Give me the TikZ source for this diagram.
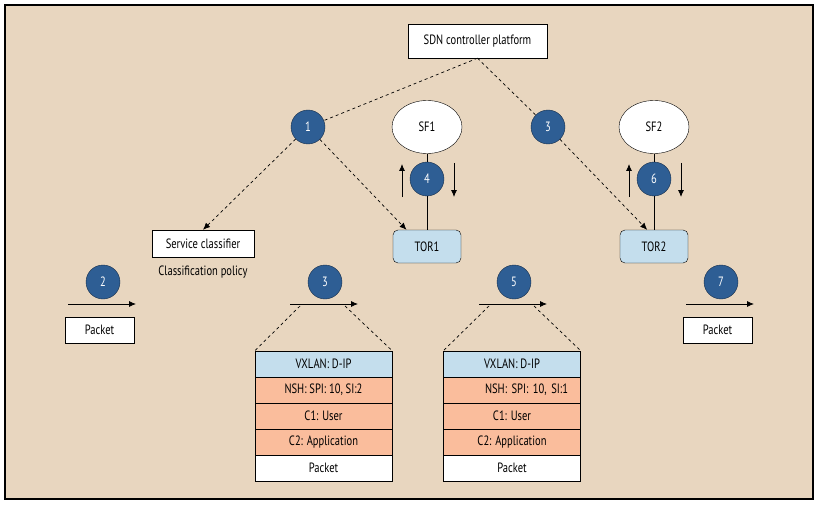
\documentclass[tikz,border=0pt]{standalone}
\usepackage{fontspec}
\setmainfont[FakeStretch=0.78]{PT Sans}
\usetikzlibrary{shapes.geometric,arrows.meta,calc}
\definecolor{sand}{rgb}{0.91,0.84,0.75}
\definecolor{blue1}{rgb}{0.18,0.37,0.58}
\definecolor{blue2}{rgb}{0.77,0.87,0.93}
\definecolor{navy}{rgb}{0.09,0.18,0.29}
\definecolor{salmon}{rgb}{0.98,0.74,0.61}

\begin{document}
\begin{tikzpicture}[x=1pt,y=-1pt,
  font=\fontsize{13.5}{15}\selectfont,
  num/.style={circle,draw=navy,fill=blue1,text=white,minimum size=34pt,inner sep=0pt},
  box/.style={draw,fill=white,minimum height=26pt,inner sep=2pt},
  tor/.style={draw,fill=blue2,rounded corners=5pt,minimum width=68pt,minimum height=33pt},
  sf/.style={ellipse,draw,fill=white,minimum width=70pt,minimum height=53pt},
  layer/.style={draw,minimum width=137pt,minimum height=26pt,inner sep=0pt},
  ctrl/.style={dash pattern=on 3pt off 3pt,line width=0.7pt},
  flow/.style={line width=0.8pt,-{Latex[length=7pt,width=6pt]}}
]
\useasboundingbox (0,0) rectangle (821,505);
\draw[line width=1.1pt,fill=sand] (5,5) rectangle (813,499);

% controller and service functions
\node[box,minimum width=139pt,minimum height=34pt] (sdn) at (477.5,41) {SDN controller platform};
\node[num] (c1) at (308,127) {1};
\node[num] (c3) at (548,127) {3};
\node[sf] (sf1) at (427,127) {SF1};
\node[sf] (sf2) at (654,127) {SF2};
\node[num] (c4) at (427,179) {4};
\node[num] (c6) at (654,179) {6};
\node[tor] (tor1) at (427,246.5) {TOR1};
\node[tor] (tor2) at (654,246.5) {TOR2};
\node[box,minimum width=102pt,minimum height=27pt] (cls) at (203,243.5) {Service classifier};
\node (pol) at (203,272) {Classification policy};

\draw[ctrl] (sdn.south) -- (c1);
\draw[ctrl] (sdn.south) -- (c3);
\draw[ctrl,-{Latex[length=7pt,width=6pt]}] (c1) -- (cls.north);
\draw[ctrl,-{Latex[length=7pt,width=6pt]}] (c1) -- ($(tor1.north west)!0.2!(tor1.north east)$);
\draw[ctrl,-{Latex[length=7pt,width=6pt]}] (c3) -- ($(tor2.north west)!0.4!(tor2.north east)$);

\draw (sf1) -- (c4) -- (tor1);
\draw (sf2) -- (c6) -- (tor2);
\foreach \n in {c4,c6}
{
\draw[flow] ($(\n)+(-25,18)$) -- ($(\n)+(-25,-15)$);
\draw[flow] ($(\n)+(27,-16)$) -- ($(\n)+(27,18)$);
}

% packet along the path
\node[num] (c2) at (103,282) {2};
\node[num] (c3b) at (325,282) {3};
\node[num] (c5) at (514,282) {5};
\node[num] (c7) at (721,282) {7};
\foreach \n in {c2,c3b,c5,c7}
{
\draw[flow] ($(\n)+(-35,22)$) -- ($(\n)+(33,22)$);
}
\node[box,minimum width=69pt] (pk2) at (99.5,330) {Packet};
\node[box,minimum width=69pt] (pk7) at (717.5,330) {Packet};

\node[layer,fill=blue2] (vx3) at (323.5,364) {VXLAN: D-IP};
\node[layer,fill=salmon] (nsh3) at (323.5,390) {NSH: SPI: 10, SI:2};
\node[layer,fill=salmon] (cu3) at (323.5,416) {C1: User};
\node[layer,fill=salmon] (ca3) at (323.5,442) {C2: Application};
\node[layer,fill=white] (pk3) at (323.5,468) {Packet};

\node[layer,fill=blue2] (vx5) at (512,364) {VXLAN: D-IP};
\node[layer,fill=salmon,text width=112pt,align=right] (nsh5) at (512,390) {NSH: SPI: 10, SI:1};
\node[layer,fill=salmon] (cu5) at (512,416) {C1: User};
\node[layer,fill=salmon] (ca5) at (512,442) {C2: Application};
\node[layer,fill=white] (pk5) at (512,468) {Packet};

\draw[ctrl] ($(c3b)+(-25,24)$) -- (vx3.north west);
\draw[ctrl] ($(c3b)+(20,24)$) -- (vx3.north east);
\draw[ctrl] ($(c5)+(-25,24)$) -- (vx5.north west);
\draw[ctrl] ($(c5)+(20,24)$) -- (vx5.north east);
\end{tikzpicture}
\end{document}
